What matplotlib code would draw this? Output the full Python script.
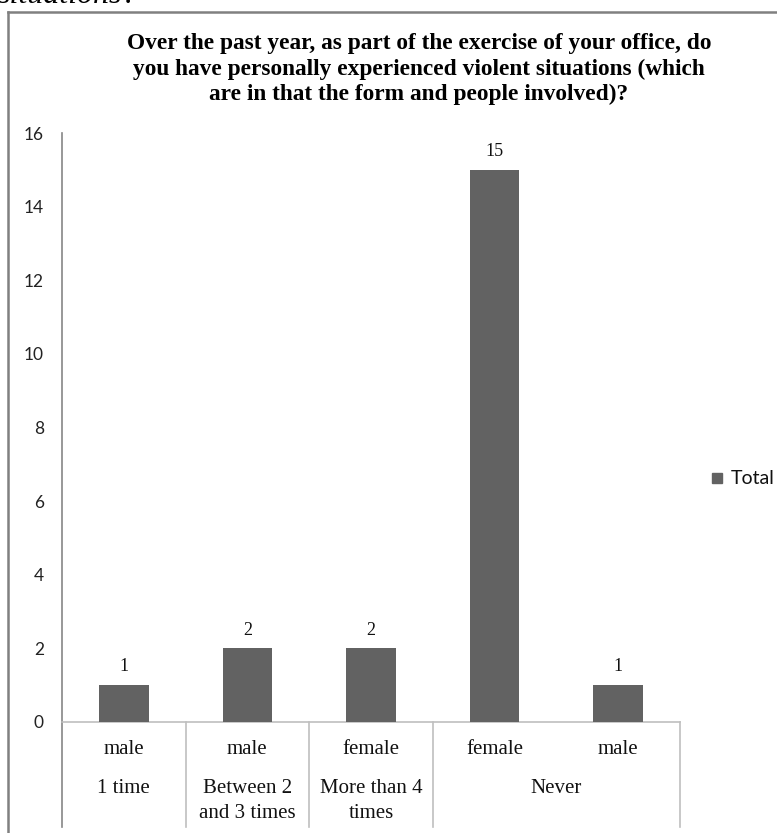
import matplotlib
matplotlib.use("Agg")
import matplotlib.pyplot as plt
from matplotlib.lines import Line2D
from matplotlib.patches import Rectangle
import matplotlib.transforms as mtransforms

# ---- data ----
sub_labels = ["male", "male", "female", "female", "male"]
group_labels = ["1 time", "Between 2\nand 3 times", "More than 4\ntimes", "Never"]
group_sizes = [1, 1, 1, 2]
values = [1, 2, 2, 15, 1]
series_name = "Total"
title = ("Over the past year, as part of the exercise of your office, do\n"
         "you have personally experienced violent situations (which\n"
         "are in that the form and people involved)?")
yticks = [0, 2, 4, 6, 8, 10, 12, 14, 16]

W, H = 777, 833
fig = plt.figure(figsize=(W / 100, H / 100), dpi=100)

def fx(px):
    return px / W

def fy(py):
    return 1 - py / H

# axes box: x 62..680, y 133..722
ax = fig.add_axes([fx(62), fy(722), fx(680) - fx(62), fy(133) - fy(722)])
bar_color = "#626262"
x = list(range(len(values)))
bars = ax.bar(x, values, width=0.4, color=bar_color, zorder=3)
ax.set_xlim(-0.5, len(values) - 0.5)
ax.set_ylim(0, 16)
ax.set_yticks(yticks)
ax.set_yticklabels([str(t) for t in yticks], fontsize=12.5, family="Lato", color="#222222")
ax.tick_params(axis="y", length=0, pad=13)
ax.set_xticks([])
for s in ["top", "right"]:
    ax.spines[s].set_visible(False)
ax.spines["left"].set_color("#868686")
ax.spines["left"].set_linewidth(1.2)
ax.spines["bottom"].set_color("#BFBFBF")
ax.spines["bottom"].set_linewidth(1.2)

# data labels
for xi, v in zip(x, values):
    ax.annotate(str(v), (xi, v), xytext=(0, 7), textcoords="offset points",
                ha="center", va="bottom", fontsize=13, family="Liberation Serif",
                color="#111111")

trans = mtransforms.blended_transform_factory(ax.transData, ax.transAxes)
ax_h = 722 - 133
# sub labels
for xi, lab in zip(x, sub_labels):
    ax.text(xi, -(750 - 722) / ax_h, lab, transform=trans, ha="center", va="center",
            fontsize=15, family="Liberation Serif", color="#111111")

# group labels and dividers
start = 0
div_positions = [-0.5]
for lab, n in zip(group_labels, group_sizes):
    center = start + (n - 1) / 2
    ax.text(center, -(779 - 722) / ax_h, lab, transform=trans, ha="center", va="top",
            fontsize=15, family="Liberation Serif", color="#111111", linespacing=1.4)
    start += n
    div_positions.append(start - 0.5)
for i, d in enumerate(div_positions):
    col = "#868686" if i == 0 else "#BFBFBF"
    ax.add_line(Line2D([d, d], [0, -(827 - 722) / ax_h], transform=trans, color=col,
                       lw=1.2, clip_on=False))

# title
fig.text(fx(419), fy(69), title, ha="center", va="center", fontsize=16.8,
         fontweight="bold", family="Liberation Serif", linespacing=1.24, color="#000000")

# legend
fig.patches.append(Rectangle((fx(712), fy(483)), fx(10), fy(473) - fy(483),
                             transform=fig.transFigure, color=bar_color))
fig.text(fx(731), fy(478), series_name, ha="left", va="center", fontsize=14,
         family="Lato", color="#111111")

# outer border of the chart area
fig.add_artist(Line2D([fx(8), fx(8)], [fy(12), 0], transform=fig.transFigure,
                      color="#808080", lw=1.8))
fig.add_artist(Line2D([fx(8), 1], [fy(12), fy(12)], transform=fig.transFigure,
                      color="#808080", lw=1.8))

# cut-off text fragment at top
fig.text(fx(-2), fy(3), "situations?", ha="left", va="baseline", fontsize=23,
         style="italic", family="Liberation Serif", color="#000000")

fig.savefig("out.png", dpi=100)
